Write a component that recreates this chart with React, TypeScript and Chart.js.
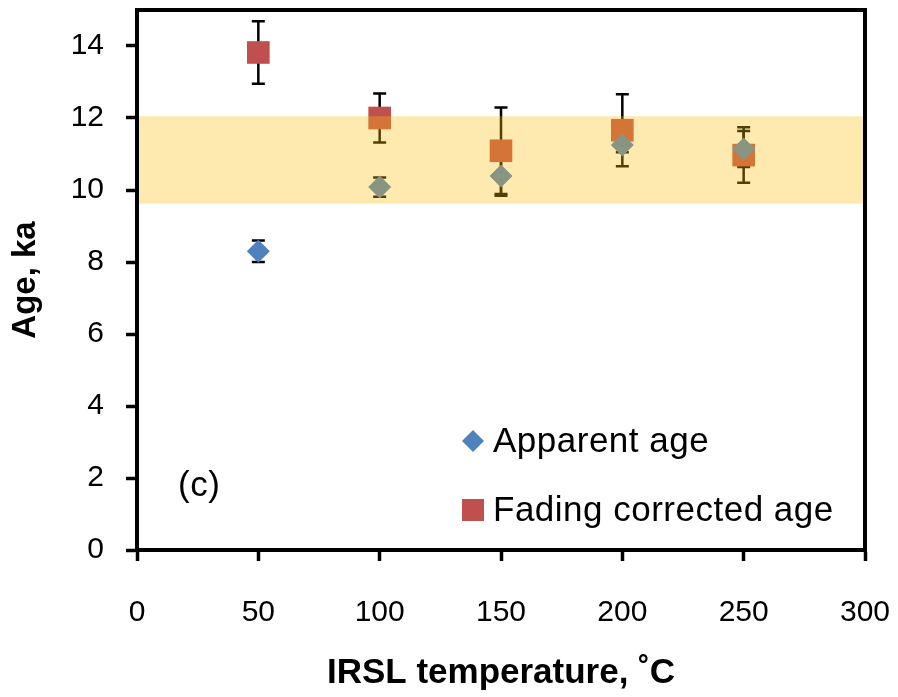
import React, { useEffect, useRef } from "react";
import { Chart, registerables } from "chart.js";

Chart.register(...registerables);

const temperatures = [50, 100, 150, 200, 250];
const apparentAge = [8.3, 10.08, 10.39, 11.25, 11.14];
const apparentErr = [0.3, 0.27, 0.55, 0.2, 0.5];
const fadingAge = [13.82, 12.0, 11.09, 11.66, 10.97];
const fadingErr = [0.87, 0.68, 1.2, 1.0, 0.77];
const bandRange = [9.62, 12.05];
const xTicks = [0, 50, 100, 150, 200, 250, 300];
const yTicks = [0, 2, 4, 6, 8, 10, 12, 14];
const legendLabels = ["Apparent age", "Fading corrected age"];
const panelLabel = "(c)";

const FONT = "'Liberation Sans', Arial, sans-serif";
const BLUE = "#4F81BD";
const RED = "#C0504D";

const errorBars = {
  id: "errorBars",
  beforeDatasetsDraw(chart: any) {
    const { ctx, scales } = chart;
    const xs = scales.x;
    const ys = scales.y;
    const sets = [
      { v: apparentAge, e: apparentErr },
      { v: fadingAge, e: fadingErr },
    ];
    ctx.save();
    ctx.strokeStyle = "#000";
    ctx.lineWidth = 2.5;
    sets.forEach((s) => {
      temperatures.forEach((t, i) => {
        const px = xs.getPixelForValue(t);
        const top = ys.getPixelForValue(s.v[i] + s.e[i]);
        const bot = ys.getPixelForValue(s.v[i] - s.e[i]);
        ctx.beginPath();
        ctx.moveTo(px, top);
        ctx.lineTo(px, bot);
        ctx.moveTo(px - 6.5, top);
        ctx.lineTo(px + 6.5, top);
        ctx.moveTo(px - 6.5, bot);
        ctx.lineTo(px + 6.5, bot);
        ctx.stroke();
      });
    });
    ctx.restore();
  },
};

const bandAndFrame = {
  id: "bandAndFrame",
  afterDatasetsDraw(chart: any) {
    const { ctx, scales, chartArea } = chart;
    const ys = scales.y;
    const top = ys.getPixelForValue(bandRange[1]);
    const bot = ys.getPixelForValue(bandRange[0]);
    ctx.save();
    ctx.fillStyle = "rgba(252, 191, 13, 0.33)";
    ctx.fillRect(chartArea.left, top, chartArea.right - chartArea.left, bot - top);
    ctx.restore();
  },
  afterDraw(chart: any) {
    const { ctx, chartArea } = chart;
    ctx.save();
    ctx.strokeStyle = "#000";
    ctx.lineWidth = 4;
    ctx.strokeRect(
      chartArea.left,
      chartArea.top,
      chartArea.right - chartArea.left,
      chartArea.bottom - chartArea.top
    );
    // legend
    ctx.font = `35px ${FONT}`;
    try {
      (ctx as any).letterSpacing = "0.5px";
    } catch (e) {}
    ctx.textBaseline = "middle";
    ctx.textAlign = "left";
    const mx = 473;
    const r1 = 441;
    const r2 = 510;
    ctx.fillStyle = BLUE;
    ctx.beginPath();
    ctx.moveTo(mx - 11, r1);
    ctx.lineTo(mx, r1 - 11);
    ctx.lineTo(mx + 11, r1);
    ctx.lineTo(mx, r1 + 11);
    ctx.closePath();
    ctx.fill();
    ctx.fillStyle = RED;
    ctx.fillRect(mx - 11, r2 - 11, 22, 22);
    ctx.fillStyle = "#000";
    ctx.fillText(legendLabels[0], 493, r1 + 1);
    ctx.fillText(legendLabels[1], 493, r2 + 1);
    ctx.fillText(panelLabel, 178, 486);
    ctx.restore();
  },
};

export default function App() {
  const ref = useRef<HTMLCanvasElement>(null);
  useEffect(() => {
    const canvas = ref.current;
    if (!canvas) return;
    const chart = new Chart(canvas, {
      type: "scatter",
      data: {
        datasets: [
          {
            label: legendLabels[0],
            data: temperatures.map((t, i) => ({ x: t, y: apparentAge[i] })),
            pointStyle: "rectRot",
            pointRadius: 11.5,
            pointHoverRadius: 11.5,
            pointBackgroundColor: BLUE,
            pointBorderWidth: 0,
            borderWidth: 0,
            showLine: false,
          },
          {
            label: legendLabels[1],
            data: temperatures.map((t, i) => ({ x: t, y: fadingAge[i] })),
            pointStyle: "rect",
            pointRadius: 16,
            pointHoverRadius: 16,
            pointBackgroundColor: RED,
            pointBorderWidth: 0,
            borderWidth: 0,
            showLine: false,
          },
        ],
      },
      options: {
        responsive: false,
        animation: false,
        events: [],
        layout: { autoPadding: false, padding: { left: 0, right: 33, top: 10, bottom: 0 } },
        plugins: {
          legend: { display: false },
          tooltip: { enabled: false },
        },
        scales: {
          x: {
            type: "linear",
            min: 0,
            max: 300,
            afterFit(scale: any) {
              scale.height = 147;
              scale.paddingLeft = 0;
              scale.paddingRight = 0;
            },
            afterBuildTicks(scale: any) {
              scale.ticks = xTicks.map((v) => ({ value: v }));
            },
            ticks: {
              color: "#000",
              font: { family: FONT, size: 30 },
              padding: 34,
              maxRotation: 0,
            },
            grid: {
              drawOnChartArea: false,
              drawTicks: true,
              tickLength: 11,
              tickWidth: 3.5,
              tickColor: "#000",
              color: "#000",
            },
            border: { display: true, color: "#000", width: 4 },
            title: {
              display: true,
              text: "IRSL temperature, ˚C",
              color: "#000",
              font: { family: FONT, size: 35, weight: "bold", lineHeight: 1.2 },
              padding: { top: 4, bottom: 3 },
            },
          },
          y: {
            type: "linear",
            min: 0,
            max: 15,
            afterFit(scale: any) {
              scale.width = 137;
              scale.paddingTop = 0;
              scale.paddingBottom = 0;
            },
            afterBuildTicks(scale: any) {
              scale.ticks = yTicks.map((v) => ({ value: v }));
            },
            ticks: {
              color: "#000",
              font: { family: FONT, size: 30 },
              padding: 22,
            },
            grid: {
              drawOnChartArea: false,
              drawTicks: true,
              tickLength: 11,
              tickWidth: 3.5,
              tickColor: "#000",
              color: "#000",
            },
            border: { display: true, color: "#000", width: 4 },
            title: {
              display: true,
              text: "Age, ka",
              color: "#000",
              font: { family: FONT, size: 33, weight: "bold", lineHeight: 1.2 },
              padding: { top: 6, bottom: 4 },
            },
          },
        },
      },
      plugins: [errorBars, bandAndFrame],
    });
    return () => chart.destroy();
  }, []);
  return (
    <div style={{ position: "absolute", left: 0, top: 0, width: 898, height: 697, background: "#fff" }}>
      <canvas ref={ref} width={898} height={697} style={{ width: 898, height: 697, display: "block" }} />
    </div>
  );
}
